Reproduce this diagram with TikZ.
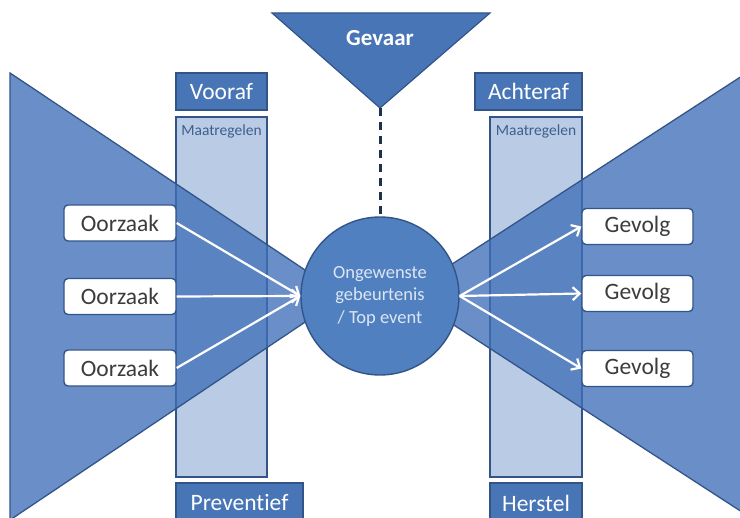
\documentclass[tikz,border=0pt]{standalone}
\usepackage{fontspec}
\setmainfont{Carlito}[Ligatures=NoCommon]
\usetikzlibrary{arrows.meta}
\definecolor{tri}{RGB}{64,112,184}
\definecolor{edge}{RGB}{50,84,136}
\definecolor{boxb}{RGB}{72,117,182}
\definecolor{colf}{RGB}{186,203,229}
\definecolor{circf}{RGB}{80,128,192}
\definecolor{ctext}{RGB}{220,230,243}
\definecolor{mtext}{RGB}{62,95,143}
\definecolor{dtext}{RGB}{60,60,60}
\definecolor{dashc}{RGB}{30,50,80}
\begin{document}
\begin{tikzpicture}[x=1pt,y=-1pt,
  headbox/.style={draw=edge,line width=1.2pt,fill=boxb,text=white,inner sep=0pt,font=\fontsize{23.5}{26}\selectfont},
  colbox/.style={draw=edge,line width=1.2pt,fill=colf,inner sep=0pt},
  itembox/.style={draw=edge,line width=1.4pt,fill=white,rounded corners=4pt,text=dtext,inner sep=0pt,minimum height=36pt,font=\fontsize{23.5}{26}\selectfont},
  trishape/.style={draw=edge,line width=1.3pt,fill=tri,fill opacity=0.78},
  flow/.style={draw=white,line width=2.2pt,-{Straight Barb[length=7pt,width=13pt,line width=2.2pt]}},
  mlabel/.style={text=mtext,font=\fontsize{15.5}{18}\selectfont}
]
\useasboundingbox (0,0) rectangle (740,518);
% columns
\node[colbox,minimum width=91pt,minimum height=360pt] (colL) at (221.5,297) {};
\node[colbox,minimum width=92pt,minimum height=360pt] (colR) at (536,297) {};
% bow-tie triangles
\path[trishape] (10,73) -- (344,296) -- (10,520) -- cycle;
\path[trishape] (742,76) -- (406,294) -- (742,512) -- cycle;
\node[mlabel] (mL) at (221.5,131) {Maatregelen};
\node[mlabel] (mR) at (536,131) {Maatregelen};
% header / footer boxes
\node[headbox,minimum width=91pt,minimum height=37pt] (vooraf) at (221.5,91.5) {Vooraf};
\node[headbox,minimum width=107pt,minimum height=37pt] (achteraf) at (528.5,91.5) {Achteraf};
\node[headbox,minimum width=127pt,minimum height=40pt] (prev) at (239.5,503) {Preventief};
\node[headbox,minimum width=92pt,minimum height=40pt] (herstel) at (536,503) {Herstel};
% Gevaar
\coordinate (g1) at (272,13);
\coordinate (g2) at (490,13);
\coordinate (gapex) at (380,108);
\path[draw=edge,line width=1.2pt,fill=boxb] (g1) -- (g2) -- (gapex) -- cycle;
\node[text=white,font=\bfseries\fontsize{23}{26}\selectfont] (gevaar) at (380,38) {Gevaar};
% top event
\node[circle,draw=edge,line width=1.4pt,fill=circf,minimum size=158pt,inner sep=0pt,align=center,text=ctext,font=\fontsize{18.5}{22.5}\selectfont] (top) at (380,296) {Ongewenste\\gebeurtenis\\/ Top event};
\draw[dashc,line width=3pt,dash pattern=on 8pt off 6pt] (gapex) -- (top.north);
% causes and consequences
\node[itembox,minimum width=112pt] (o1) at (120,223) {Oorzaak};
\node[itembox,minimum width=112pt] (o2) at (120,296.5) {Oorzaak};
\node[itembox,minimum width=112pt] (o3) at (120,368) {Oorzaak};
\node[itembox,minimum width=111pt] (v1) at (637.5,226.5) {Gevolg};
\node[itembox,minimum width=111pt] (v2) at (637.5,293.5) {Gevolg};
\node[itembox,minimum width=111pt] (v3) at (637.5,368.5) {Gevolg};
\draw[flow] (o1.east) -- (top.west);
\draw[flow] (o2.east) -- (top.west);
\draw[flow] (o3.east) -- (top.west);
\draw[flow] (top.east) -- (v1.west);
\draw[flow] (top.east) -- (v2.west);
\draw[flow] (top.east) -- (v3.west);
\end{tikzpicture}
\end{document}
